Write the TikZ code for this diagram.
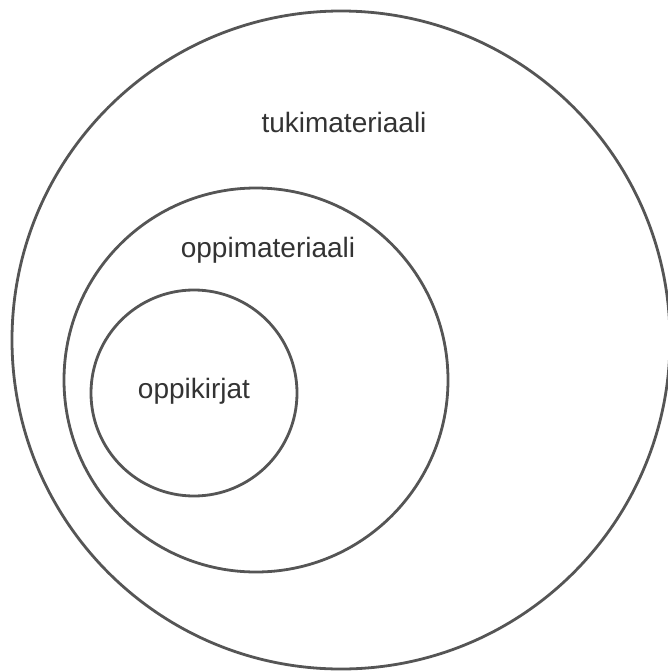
\documentclass[tikz,border=0pt]{standalone}
\usepackage{fontspec}
\setmainfont{Liberation Sans}
\definecolor{ringgray}{HTML}{555555}
\definecolor{txtgray}{HTML}{333333}
\tikzset{
  ring/.style={draw=ringgray, line width=2.8pt, circle, inner sep=0pt},
  lbl/.style={text=txtgray, font=\fontsize{28}{33}\selectfont, inner sep=0pt}
}
\begin{document}
\begin{tikzpicture}[x=1pt,y=-1pt]
\useasboundingbox (0,0) rectangle (668,672);
\node[ring, minimum size=658pt] (outer) at (341,340) {};
\node[ring, minimum size=384pt] (middle) at (256,380) {};
\node[ring, minimum size=206pt] (inner) at (194,393) {};
\node[lbl] (tuki) at (344,122) {tukimateriaali};
\node[lbl] (oppim) at (268,250) {oppimateriaali};
\node[lbl] (oppik) at (194,391) {oppikirjat};
\end{tikzpicture}
\end{document}
